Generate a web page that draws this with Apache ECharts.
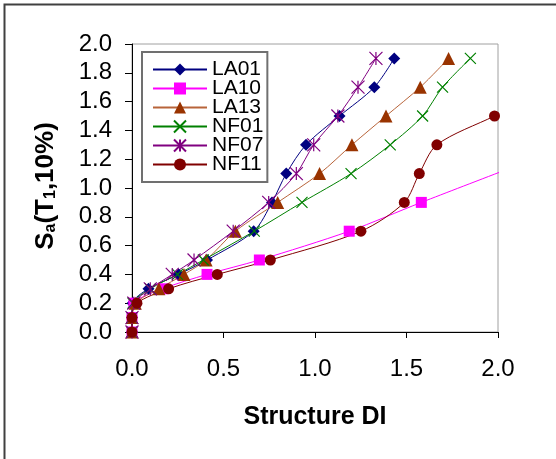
<!DOCTYPE html>
<html>
<head>
<meta charset="utf-8">
<script src="https://cdn.jsdelivr.net/npm/echarts@6/dist/echarts.min.js"></script>
<style>
html,body{margin:0;padding:0;background:#fff;}
#chart{width:556px;height:459px;}
</style>
</head>
<body>
<div id="chart"></div>
<script>
// ---- data (Structure DI vs Sa) ----
const seriesNames = ['LA01', 'LA10', 'LA13', 'NF01', 'NF07', 'NF11'];
const saLevels = [0, 0.1, 0.2, 0.3, 0.4, 0.5, 0.7, 0.9, 1.1, 1.3, 1.5, 1.7, 1.9];
const la01DI = [0, 0, 0.003, 0.09, 0.255, 0.41, 0.665, 0.765, 0.843, 0.951, 1.134, 1.324, 1.433];
const la10Sa = [0, 0.1, 0.2, 0.3, 0.4, 0.5, 0.7, 0.9, 1.3];
const la10DI = [0, 0, 0.01, 0.168, 0.41, 0.696, 1.187, 1.581, 2.4];
const la13DI = [0, 0, 0.018, 0.147, 0.284, 0.405, 0.565, 0.796, 1.025, 1.202, 1.388, 1.575, 1.73];
const nf01DI = [0, 0, 0.005, 0.1, 0.249, 0.39, 0.668, 0.929, 1.197, 1.411, 1.588, 1.697, 1.849];
const nf07DI = [0, 0, 0.01, 0.1, 0.22, 0.339, 0.553, 0.747, 0.898, 0.993, 1.125, 1.235, 1.333];
const nf11Sa = [0, 0.1, 0.2, 0.3, 0.4, 0.5, 0.7, 0.9, 1.1, 1.3, 1.5, 1.7];
const nf11DI = [0, 0, 0.027, 0.2, 0.466, 0.756, 1.251, 1.488, 1.57, 1.666, 1.981, 2.3];
const xTicks = [0, 0.5, 1.0, 1.5, 2.0];
const yTicks = [0, 0.2, 0.4, 0.6, 0.8, 1.0, 1.2, 1.4, 1.6, 1.8, 2.0];
const xTitle = 'Structure DI';
const yTitleRich = '{b|S}{s|a}{b|(T}{s|1}{b|,10%)}';

const FONT = "'Liberation Sans', Arial, sans-serif";
const pairs = (xs, ys) => xs.map((x, i) => [x, ys[i]]);

const styles = {
  LA01: {color: '#000080', line: '#000080', symbol: 'diamond', size: 12, fill: '#000080'},
  LA10: {color: '#FF00FF', line: '#FF00FF', symbol: 'rect', size: 11, fill: '#FF00FF'},
  LA13: {color: '#993300', line: '#B8643A', symbol: 'triangle', size: 13, fill: '#993300'},
  NF01: {color: '#008000', line: '#008000', symbol: 'path://M0,0L10,10M10,0L0,10', size: 11, fill: 'none'},
  NF07: {color: '#800080', line: '#800080', symbol: 'path://M0,0L10,10M10,0L0,10M5,0L5,10', size: 13, fill: 'none'},
  NF11: {color: '#800000', line: '#800000', symbol: 'circle', size: 11, fill: '#800000'}
};
const dataMap = {
  LA01: pairs(la01DI, saLevels),
  LA10: pairs(la10DI, la10Sa),
  LA13: pairs(la13DI, saLevels),
  NF01: pairs(nf01DI, saLevels),
  NF07: pairs(nf07DI, saLevels),
  NF11: pairs(nf11DI, nf11Sa)
};

const series = seriesNames.map(n => {
  const s = styles[n];
  const stroked = s.fill === 'none';
  return {
    name: n,
    type: 'line',
    data: dataMap[n],
    smooth: 0.3,
    clip: true,
    symbol: s.symbol,
    symbolSize: s.size,
    showAllSymbol: true,
    lineStyle: {color: s.line, width: 1},
    itemStyle: stroked ? {color: 'rgba(0,0,0,0)', borderColor: s.color, borderWidth: 1.2}
                       : {color: s.color, borderColor: s.color, borderWidth: 0},
    emphasis: {disabled: true},
    animation: false
  };
});

const chart = echarts.init(document.getElementById('chart'), null, {renderer: 'canvas'});
chart.setOption({
  animation: false,
  backgroundColor: '#fff',
  textStyle: {fontFamily: FONT},
  grid: {left: 132, right: 58, top: 44, bottom: 127, show: true, borderColor: '#a0a0a0', borderWidth: 1, backgroundColor: 'transparent'},
  legend: {
    data: seriesNames,
    orient: 'vertical',
    left: 142, top: 52,
    padding: [7, 4, 7, 10],
    itemWidth: 54, itemHeight: 15, itemGap: -2,
    borderColor: '#707070', borderWidth: 2,
    backgroundColor: '#fff',
    textStyle: {fontFamily: FONT, fontSize: 21, color: '#000'},
    selectedMode: false
  },
  xAxis: {
    type: 'value', min: xTicks[0], max: xTicks[xTicks.length - 1], interval: 0.5,
    name: xTitle, nameLocation: 'middle', nameGap: 73,
    nameTextStyle: {fontFamily: FONT, fontSize: 25, fontWeight: 'bold', color: '#000'},
    axisLine: {show: true, onZero: false, lineStyle: {color: '#000', width: 1}},
    axisTick: {show: true, inside: false, length: 6, lineStyle: {color: '#000'}},
    axisLabel: {margin: 25, fontFamily: FONT, fontSize: 24, color: '#000', formatter: v => v.toFixed(1)},
    splitLine: {show: false}
  },
  yAxis: {
    type: 'value', min: yTicks[0], max: yTicks[yTicks.length - 1], interval: 0.2,
    axisLine: {show: true, onZero: false, lineStyle: {color: '#000', width: 1}},
    axisTick: {show: true, inside: false, length: 7, lineStyle: {color: '#000'}},
    axisLabel: {margin: 20, fontFamily: FONT, fontSize: 24, color: '#000', formatter: v => v.toFixed(1)},
    splitLine: {show: false}
  },
  graphic: [{
    type: 'rect', left: 2, top: 2, silent: true,
    shape: {width: 600, height: 500},
    style: {fill: 'none', stroke: '#404040', lineWidth: 2},
    z: -1
  }, {
    type: 'text', silent: true,
    x: 46, y: 186, rotation: Math.PI / 2,
    style: {
      text: yTitleRich,
      align: 'center', verticalAlign: 'middle',
      rich: {
        b: {fontFamily: FONT, fontSize: 26, fontWeight: 'bold', fill: '#000'},
        s: {fontFamily: FONT, fontSize: 16, fontWeight: 'bold', fill: '#000', verticalAlign: 'bottom'}
      }
    }
  }],
  series: series
});
</script>
</body>
</html>
